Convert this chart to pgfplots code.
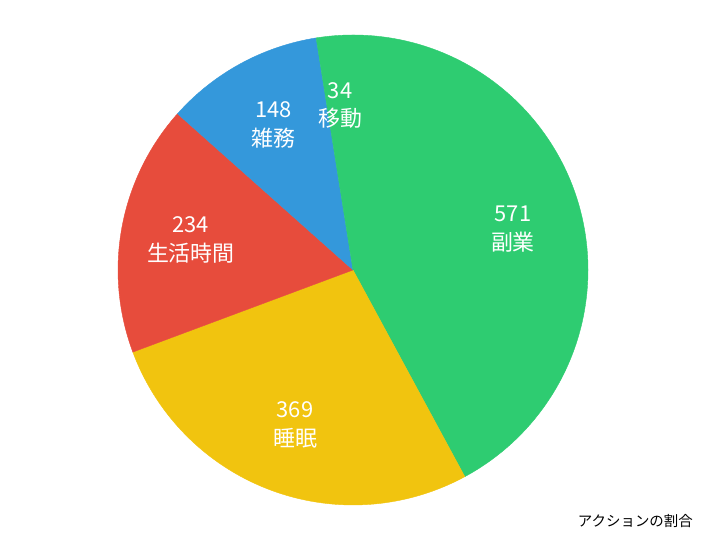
\documentclass[border=0pt]{standalone}
\usepackage{pgfplots}
\pgfplotsset{compat=1.18}
\usepackage{fontspec}
\setmainfont{Noto Sans CJK JP}
\definecolor{cgreen}{HTML}{2ECC71}
\definecolor{cyellow}{HTML}{F1C40F}
\definecolor{cred}{HTML}{E74C3C}
\definecolor{cblue}{HTML}{3498DB}
\begin{document}
\begin{tikzpicture}
\begin{axis}[scale only axis, width=706bp, height=540bp,
  xmin=0, xmax=706, ymin=0, ymax=540, hide axis, clip=false]
\pgfplotsextra{
  \path (axis cs:0,0) rectangle (axis cs:706,540);
  \pgfmathsetmacro\total{571+369+234+148+34}
  \foreach \v/\c/\n [remember=\nxt as \cum (initially 0)] in
     {571/cgreen/副業, 369/cyellow/睡眠, 234/cred/生活時間, 148/cblue/雑務, 34/cgreen/移動}{
    \pgfmathsetmacro\nxt{\cum+\v}
    \pgfmathsetmacro\aa{90-\cum/\total*360}
    \pgfmathsetmacro\ab{90-\nxt/\total*360}
    \filldraw[fill=\c, draw=\c, line width=0.4bp, line join=round] (axis cs:353,270) -- ++(\aa:235bp) arc[start angle=\aa, end angle=\ab, radius=235bp] -- cycle;
  }
  \foreach \v/\c/\n [remember=\nxt as \cum (initially 0)] in
     {571/cgreen/副業, 369/cyellow/睡眠, 234/cred/生活時間, 148/cblue/雑務, 34/cgreen/移動}{
    \pgfmathsetmacro\nxt{\cum+\v}
    \pgfmathsetmacro\aa{90-\cum/\total*360}
    \pgfmathsetmacro\ab{90-\nxt/\total*360}
    \pgfmathsetmacro\am{(\aa+\ab)/2}
    \path (axis cs:353,270) ++(\am:165bp) node[text=white, align=center, inner sep=0pt,
       font=\fontsize{22}{30}\selectfont] {\v\\[-1pt]\n};
  }
  \node[anchor=east, inner sep=0pt, font=\fontsize{14.5}{17}\selectfont, text=black]
     at (axis cs:693,19) {アクションの割合};
}
\end{axis}
\end{tikzpicture}
\end{document}
